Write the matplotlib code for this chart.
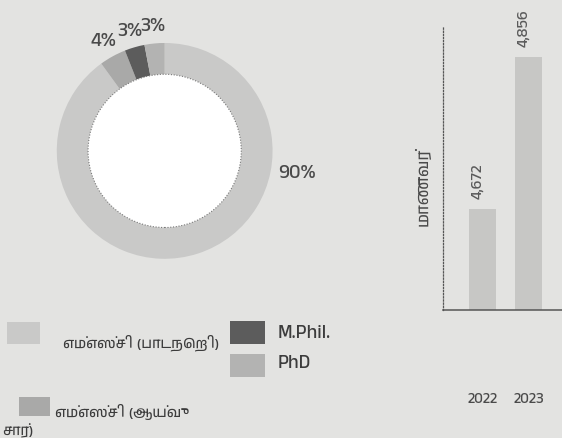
import numpy as np
import matplotlib
matplotlib.use('Agg')
import matplotlib.pyplot as plt
from matplotlib import font_manager as fm
from matplotlib.patches import Circle, Rectangle

# donut data (clockwise from the top)
categories = ['எம்எஸ்சி (பாடநெறி)', 'எம்எஸ்சி (ஆய்வு சார்)', 'M.Phil.', 'PhD']
shares = [90, 4, 3, 3]
colors = ['#c9c9c8', '#a9a9a8', '#5c5c5c', '#b3b3b2']

# bar data
years = ['2022', '2023']
students = [4672, 4856]
y_title = 'மாணவர்'

BG = '#e3e3e1'
TXT = '#4a4a4a'

tamil = sorted({f.name for f in fm.fontManager.ttflist if 'Tamil' in f.name})
FAMILY = tamil[:1] + ['Open Sans', 'DejaVu Sans']
plt.rcParams['font.family'] = FAMILY

fig = plt.figure(figsize=(5.62, 4.39), dpi=100, facecolor=BG)

# ---- donut ----
ax = fig.add_axes([0.101, 0.408, 0.384, 0.492])
ax.set_facecolor(BG)
wedges, _ = ax.pie(shares, colors=colors, startangle=90, counterclock=False,
                   radius=1.0, wedgeprops=dict(width=0.29, linewidth=0))
ax.add_patch(Circle((0, 0), 0.71, facecolor='white', edgecolor='#777777',
                    linestyle=(0, (1, 1.5)), linewidth=0.8, zorder=3))
for i, (w, v) in enumerate(zip(wedges, shares)):
    ang = np.deg2rad((w.theta1 + w.theta2) / 2)
    r = 1.17
    if i == 0:
        ang, r = np.deg2rad(-9), 1.24
    ax.text(r * np.cos(ang), r * np.sin(ang), f'{v}%', ha='center', va='center',
            fontsize=14.5, color=TXT)
ax.set_xlim(-1, 1)
ax.set_ylim(-1, 1)
ax.set_aspect('equal')
ax.axis('off')

# ---- legend (drawn by hand to copy the scanned layout) ----
W, H = 562, 439
def swatch(x0, y0, x1, y1, c):
    fig.patches.append(Rectangle((x0 / W, 1 - y1 / H), (x1 - x0) / W, (y1 - y0) / H,
                                 transform=fig.transFigure, facecolor=c,
                                 edgecolor='none'))

def label(x, y, s, size=10.5):
    fig.text(x / W, 1 - y / H, s, ha='left', va='center', fontsize=size, color='#3c3c3c')

swatch(7, 323, 40, 345, colors[0])
label(63, 343, categories[0])
swatch(230, 322, 265, 345, colors[2])
label(278, 333, categories[2], 14)
swatch(230, 355, 265, 378, colors[3])
label(278, 363, categories[3], 14)
swatch(19, 398, 50, 417, colors[1])
first, last = categories[1].rsplit(' ', 1)
label(55, 412, first)
label(2, 431, last)

# ---- bars ----
bx = fig.add_axes([443 / W, 128 / H, 0.22, 284 / H])
bx.set_facecolor('none')
x = np.arange(len(years))
bx.bar(x, students, width=0.59, color='#c7c7c5')
for xi, v in zip(x, students):
    bx.annotate(f'{v:,}', (xi, v), xytext=(-4, 8), textcoords='offset points',
                rotation=90, ha='center', va='bottom', fontsize=11.5, color='#5a5a5a')
bx.set_xlim(-0.86, 1.83)
bx.set_ylim(4550, 4893)
bx.set_xticks(x, years)
bx.tick_params(axis='x', length=0, pad=58, labelsize=11, labelcolor=TXT)
bx.set_yticks([])
for s in ['top', 'right']:
    bx.spines[s].set_visible(False)
bx.spines['left'].set_linestyle((0, (1, 1.5)))
bx.spines['left'].set_color('#555555')
bx.spines['left'].set_linewidth(0.9)
bx.spines['bottom'].set_color('#555555')
bx.spines['bottom'].set_linewidth(1.1)
bx.set_ylabel(y_title, fontsize=12, color=TXT)
bx.yaxis.set_label_coords(-0.10, 0.437)

fig.savefig('out.png', dpi=100, facecolor=BG)
